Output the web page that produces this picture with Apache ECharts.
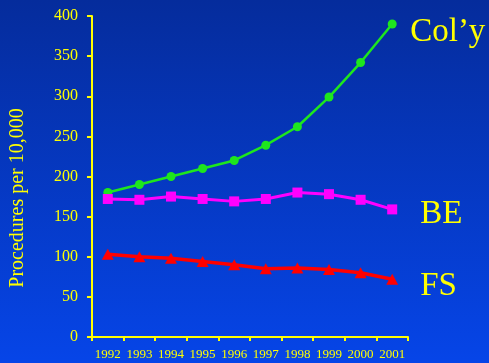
<!DOCTYPE html>
<html>
<head>
<meta charset="utf-8">
<script src="https://cdn.jsdelivr.net/npm/echarts@6/dist/echarts.min.js"></script>
<style>html,body{margin:0;padding:0;}#c{width:489px;height:363px;}</style>
</head>
<body>
<div id="c"></div>
<script>
var years = ['1992','1993','1994','1995','1996','1997','1998','1999','2000','2001'];
var colyValues = [180, 190, 200, 210, 220, 239, 262, 299, 342, 390];
var beValues = [172, 171, 175, 172, 169, 172, 180, 178, 171, 159];
var fsValues = [103, 100, 98, 94, 90, 85, 86, 84, 80, 72];
var seriesNames = ['Col\u2019y', 'BE', 'FS'];
var yTicks = [0, 50, 100, 150, 200, 250, 300, 350, 400];
var yTitle = 'Procedures per 10,000';

var YEL = '#ffff00';
var chart = echarts.init(document.getElementById('c'), null, {renderer: 'canvas'});

function endLbl(dx, dy) {
  return {
    show: true,
    formatter: '{a}',
    color: YEL,
    fontFamily: 'Liberation Serif',
    fontSize: 33,
    distance: 0,
    offset: [dx, dy],
    align: 'left',
    verticalAlign: 'middle'
  };
}

chart.setOption({
  animation: false,
  backgroundColor: {
    type: 'linear', x: 0, y: 0, x2: 0, y2: 1,
    colorStops: [{offset: 0, color: '#052c9c'}, {offset: 1, color: '#0645e8'}]
  },
  grid: {left: 92, right: 81, top: 16, bottom: 26, containLabel: false},
  xAxis: {
    type: 'category',
    data: years,
    boundaryGap: true,
    axisLine: {lineStyle: {color: YEL, width: 2}},
    axisTick: {show: true, length: 4, inside: false, lineStyle: {color: YEL, width: 2}},
    axisLabel: {color: YEL, fontFamily: 'Liberation Serif', fontSize: 13, margin: 11, interval: 0}
  },
  yAxis: {
    type: 'value',
    min: yTicks[0],
    max: yTicks[yTicks.length - 1],
    interval: yTicks[1] - yTicks[0],
    axisLine: {show: true, lineStyle: {color: YEL, width: 2}},
    axisTick: {show: true, length: 5, lineStyle: {color: YEL, width: 2}},
    axisLabel: {color: YEL, fontFamily: 'Liberation Serif', fontSize: 16, margin: 14},
    splitLine: {show: false}
  },
  graphic: [{
    type: 'text',
    x: 18, y: 198,
    rotation: Math.PI / 2,
    style: {
      text: yTitle,
      fill: YEL,
      font: '20px "Liberation Serif"',
      align: 'center',
      verticalAlign: 'middle'
    }
  }],
  series: [
    {
      name: seriesNames[0], type: 'line', data: colyValues,
      symbol: 'circle', symbolSize: 9,
      lineStyle: {color: '#1ee61e', width: 2.5},
      itemStyle: {color: '#1ee61e'},
      endLabel: endLbl(18, 8)
    },
    {
      name: seriesNames[1], type: 'line', data: beValues,
      symbol: 'rect', symbolSize: 10,
      lineStyle: {color: '#ff00ff', width: 3},
      itemStyle: {color: '#ff00ff'},
      endLabel: endLbl(28, 5)
    },
    {
      name: seriesNames[2], type: 'line', data: fsValues,
      symbol: 'triangle', symbolSize: [12, 11],
      lineStyle: {color: '#ff0000', width: 3.5},
      itemStyle: {color: '#ff0000'},
      endLabel: endLbl(28, 7)
    }
  ]
});
</script>
</body>
</html>
